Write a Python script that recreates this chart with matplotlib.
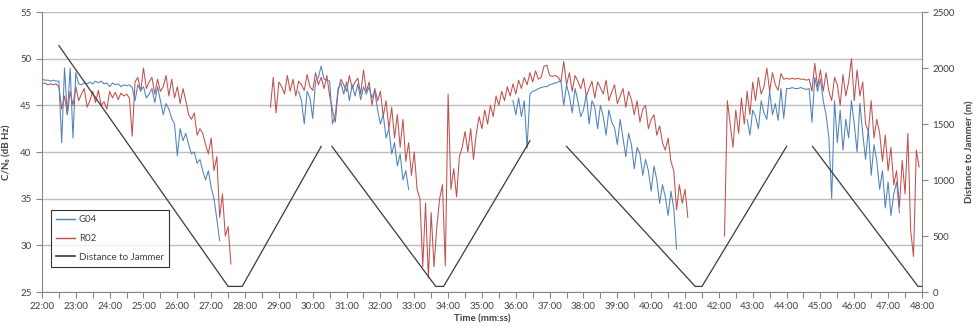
import numpy as np
import matplotlib.pyplot as plt
from matplotlib.ticker import MultipleLocator, FuncFormatter
from matplotlib.lines import Line2D

plt.rcParams['font.family'] = ['Lato', 'DejaVu Sans']

SAMPLE_S = 5  # amostras lidas a cada 5 s

# C/N0 do G04 (dB Hz), trechos com início e valores a cada 5 s
g04_starts = ["22:00", "29:35", "35:55", "42:50"]
g04_seg1 = [
    47.8, 47.7, 47.7, 47.6, 47.7, 47.6, 47.6, 41.0, 49.0, 44.0, 49.0, 41.5,
    48.5, 47.3, 47.2, 47.4, 47.3, 47.5, 47.3, 47.6, 47.4, 47.6, 47.3, 47.4,
    47.0, 47.4, 47.2, 47.3, 47.0, 47.2, 47.1, 47.2, 46.9, 45.5, 47.2, 46.6,
    47.0, 45.8, 46.2, 46.8, 45.3, 47.0, 45.5, 44.0, 45.2, 44.6, 43.6, 43.0,
    39.6, 42.5, 41.2, 42.0, 40.8, 39.8, 40.0, 38.8, 39.2, 38.0, 37.0, 38.0,
    36.2, 35.0, 32.8, 30.5,
]
g04_seg2 = [
    46.5, 45.5, 43.0, 46.5, 45.8, 43.6, 47.6, 48.0, 49.2, 47.8, 47.7, 47.6,
    43.0, 44.0, 46.8, 47.4, 46.2, 47.5, 45.5, 47.2, 46.0, 47.3, 45.6, 47.0,
    46.2, 47.0, 45.8, 46.5, 44.5, 43.0, 44.0, 41.5, 42.5, 39.8, 41.0, 38.5,
    39.8, 37.0, 38.0, 36.0,
]
g04_seg3 = [
    45.5, 44.0, 45.8, 43.8, 45.5, 40.4, 46.2, 46.5, 46.6, 46.8, 46.9, 47.0,
    47.0, 47.2, 47.3, 47.4, 47.5, 47.6, 45.0, 47.2, 46.0, 44.2, 46.8, 45.5,
    43.8, 44.5, 46.2, 43.0, 45.5, 44.8, 42.5, 45.0, 43.8, 41.8, 44.5, 43.2,
    42.6, 40.8, 43.5, 41.5, 39.5, 42.0, 40.8, 38.2, 40.5, 39.8, 37.5, 39.2,
    38.0, 35.8, 38.5, 37.0, 34.5, 36.5, 35.2, 33.2, 35.8, 34.0, 29.6,
]
g04_seg4 = [
    43.5, 41.8, 44.5, 43.8, 42.5, 45.5, 44.2, 43.5, 46.5, 44.0, 45.2, 43.4,
    46.8, 43.6, 46.8, 46.8, 46.9, 46.8, 46.8, 46.9, 46.8, 46.7, 46.8, 43.2,
    48.0, 46.5, 47.8, 45.5, 44.0, 41.5, 35.0, 45.5, 41.0, 44.5, 40.2, 43.5,
    41.5, 45.5, 43.0, 40.0, 45.2, 42.0, 39.2, 42.5, 37.5, 40.8, 39.0, 36.0,
    38.0, 34.0, 36.8, 33.2, 35.5, 36.8, 33.5,
]

# C/N0 do R02 (dB Hz)
r02_starts = ["22:00", "28:45", "42:10"]
r02_seg1 = [
    47.3, 47.4, 47.2, 47.3, 47.2, 47.3, 47.0, 44.6, 46.0, 44.0, 46.5, 45.0,
    47.0, 45.5, 46.2, 46.8, 44.8, 45.5, 46.5, 45.3, 46.6, 45.0, 45.4, 44.6,
    46.5, 45.8, 46.4, 45.6, 46.3, 46.0, 46.2, 45.8, 41.7, 47.5, 48.0, 46.5,
    49.0, 46.8, 47.5, 48.0, 46.2, 47.8, 46.5, 47.0, 48.2, 46.0, 47.8, 45.8,
    47.0, 45.2, 46.8, 45.5, 44.0, 43.5, 44.2, 41.8, 42.5, 42.0, 40.8, 39.8,
    41.5, 38.0, 39.5, 33.0, 35.5, 31.0, 32.0, 28.0,
]
r02_seg2 = [
    44.8, 48.0, 44.2, 47.5, 47.0, 46.2, 48.2, 46.5, 47.8, 46.0, 47.6, 47.2,
    46.6, 48.3, 47.0, 46.6, 48.5, 47.2, 48.0, 46.8, 48.2, 46.0, 44.5, 43.2,
    46.5, 47.8, 47.2, 46.5, 48.2, 46.8, 47.5, 47.9, 46.2, 48.8, 46.5, 47.5,
    45.0, 46.8, 45.5, 46.5, 43.8, 45.5, 42.5, 44.8, 41.5, 44.0, 40.5, 43.5,
    39.0, 41.0, 37.5, 40.0, 36.0, 35.0, 27.7, 34.5, 26.5, 33.5, 27.7, 32.0,
    35.0, 36.5, 27.8, 46.2, 36.0, 38.2, 35.2, 39.5, 40.5, 42.2, 40.0, 42.5,
    39.2, 42.0, 43.8, 42.5, 44.5, 43.0, 45.0, 43.8, 46.0, 45.0, 46.5, 45.5,
    47.0, 46.0, 47.3, 46.2, 47.7, 46.8, 48.0, 47.2, 48.5, 47.5, 48.7, 47.8,
    48.0, 49.2, 49.3, 48.2, 48.1, 48.2, 48.0, 47.5, 49.7, 47.2, 48.5, 46.5,
    48.2, 47.6, 46.8, 47.9, 46.0, 46.8, 47.6, 45.8, 47.5, 46.9, 46.2, 47.7,
    45.5, 46.4, 47.2, 45.2, 46.0, 46.8, 44.8, 46.5, 45.6, 44.0, 45.5, 43.2,
    44.6, 45.0, 42.5, 43.5, 44.0, 41.8, 42.8, 41.0, 40.2, 41.5, 39.0, 38.0,
    33.8, 36.5, 34.5, 36.0, 33.0,
]
r02_seg3 = [
    31.0, 45.5, 43.0, 40.5, 44.5, 42.0, 45.8, 43.0, 46.5, 44.0, 47.5, 45.5,
    48.0, 46.2, 47.0, 49.0, 46.5, 48.5, 47.2, 46.6, 48.4, 47.8, 47.9, 47.8,
    47.9, 47.8, 47.9, 47.8, 47.8, 47.7, 47.8, 46.5, 49.5, 47.0, 48.8, 46.5,
    48.5, 46.5, 45.5, 48.0, 47.2, 45.0, 48.3, 46.0, 47.5, 50.0, 45.5, 48.8,
    46.0, 47.5, 43.0, 42.2, 45.5, 41.5, 43.5, 42.0, 39.0, 41.8, 38.0, 40.5,
    36.5, 38.0, 34.1, 39.1, 35.5, 42.0, 31.6, 28.8, 40.2, 38.4,
]

# distância ao jammer (m), pontos de quebra da trajetória
dist_time = ["22:30", "27:30", "27:55", "30:15", None,
             "30:34", "33:38", "33:52", "36:25", None,
             "37:30", "41:18", "41:30", "44:00", None,
             "44:46", "47:53", "48:00"]
dist_m = [2200, 50, 50, 1300, None,
          1300, 50, 50, 1350, None,
          1300, 50, 50, 1300, None,
          1300, 50, 50]


def mmss(s):
    m, sec = s.split(":")
    return int(m) + int(sec) / 60.0


def montar_serie(starts, segs):
    ts, vs = [], []
    for start, seg in zip(starts, segs):
        t0 = mmss(start)
        t = t0 + np.arange(len(seg)) * SAMPLE_S / 60.0
        ts.extend(list(t) + [np.nan])
        vs.extend(list(seg) + [np.nan])
    return np.array(ts), np.array(vs)


g04_t, g04_v = montar_serie(g04_starts, [g04_seg1, g04_seg2, g04_seg3, g04_seg4])
r02_t, r02_v = montar_serie(r02_starts, [r02_seg1, r02_seg2, r02_seg3])
d_t = np.array([mmss(s) if s else np.nan for s in dist_time])
d_v = np.array([v if v is not None else np.nan for v in dist_m], dtype=float)

AZUL = "#4F81BD"
VERMELHO = "#C0504D"
PRETO = "#3a3a3a"
CINZA_EIXO = "#868686"
TXT = "#404040"

fig = plt.figure(figsize=(9.78, 3.31), dpi=100)
ax = fig.add_axes([0.0429, 0.1178, 0.8998, 0.8459])

for y in range(25, 56, 5):
    ax.axhline(y, color="#bdbdbd", lw=1.0, zorder=0)

ax.plot(g04_t, g04_v, color=AZUL, lw=0.75, zorder=3)
ax.plot(r02_t, r02_v, color=VERMELHO, lw=0.75, zorder=2)

ax.set_xlim(22, 48)
ax.set_ylim(25, 55)
ax.xaxis.set_major_locator(MultipleLocator(1))
ax.xaxis.set_minor_locator(MultipleLocator(0.5))
ax.xaxis.set_major_formatter(FuncFormatter(lambda x, p: f"{int(round(x)):02d}:00"))
ax.yaxis.set_major_locator(MultipleLocator(5))

ax2 = ax.twinx()
ax2.plot(d_t, d_v, color=PRETO, lw=0.9)
ax2.set_ylim(0, 2500)
ax2.yaxis.set_major_locator(MultipleLocator(500))

for a in (ax, ax2):
    for s in a.spines.values():
        s.set_color(CINZA_EIXO)
    a.spines["top"].set_visible(False)
    a.tick_params(which="both", colors=CINZA_EIXO, labelcolor=TXT, labelsize=7,
                  length=4, width=0.8, direction="out")
ax2.spines["left"].set_visible(False)
ax2.spines["bottom"].set_visible(False)
ax.spines["right"].set_visible(False)

ax.set_xlabel("Time (mm:ss)", fontsize=7, fontweight="bold", color=TXT, labelpad=2)
ax.set_ylabel("C/N₀ (dB Hz)", fontsize=7, fontweight="bold", color=TXT, labelpad=6)
ax2.set_ylabel("Distance to Jammer (m)", fontsize=7, fontweight="bold", color=TXT,
               rotation=90, labelpad=8)

handles = [
    Line2D([], [], color=AZUL, lw=1.0),
    Line2D([], [], color=VERMELHO, lw=1.0),
    Line2D([], [], color=PRETO, lw=1.2),
]
leg = ax2.legend(handles, ["G04", "R02", "Distance to Jammer"], loc="lower left",
                 bbox_to_anchor=(0.0102, 0.089), borderaxespad=0, fontsize=7,
                 frameon=True, fancybox=False, handlelength=1.95, handletextpad=0.35,
                 labelspacing=1.0, borderpad=0.55)
leg.get_frame().set_edgecolor("black")
leg.get_frame().set_linewidth(0.8)
for t in leg.get_texts():
    t.set_color(TXT)

fig.savefig("out.png", dpi=100)
